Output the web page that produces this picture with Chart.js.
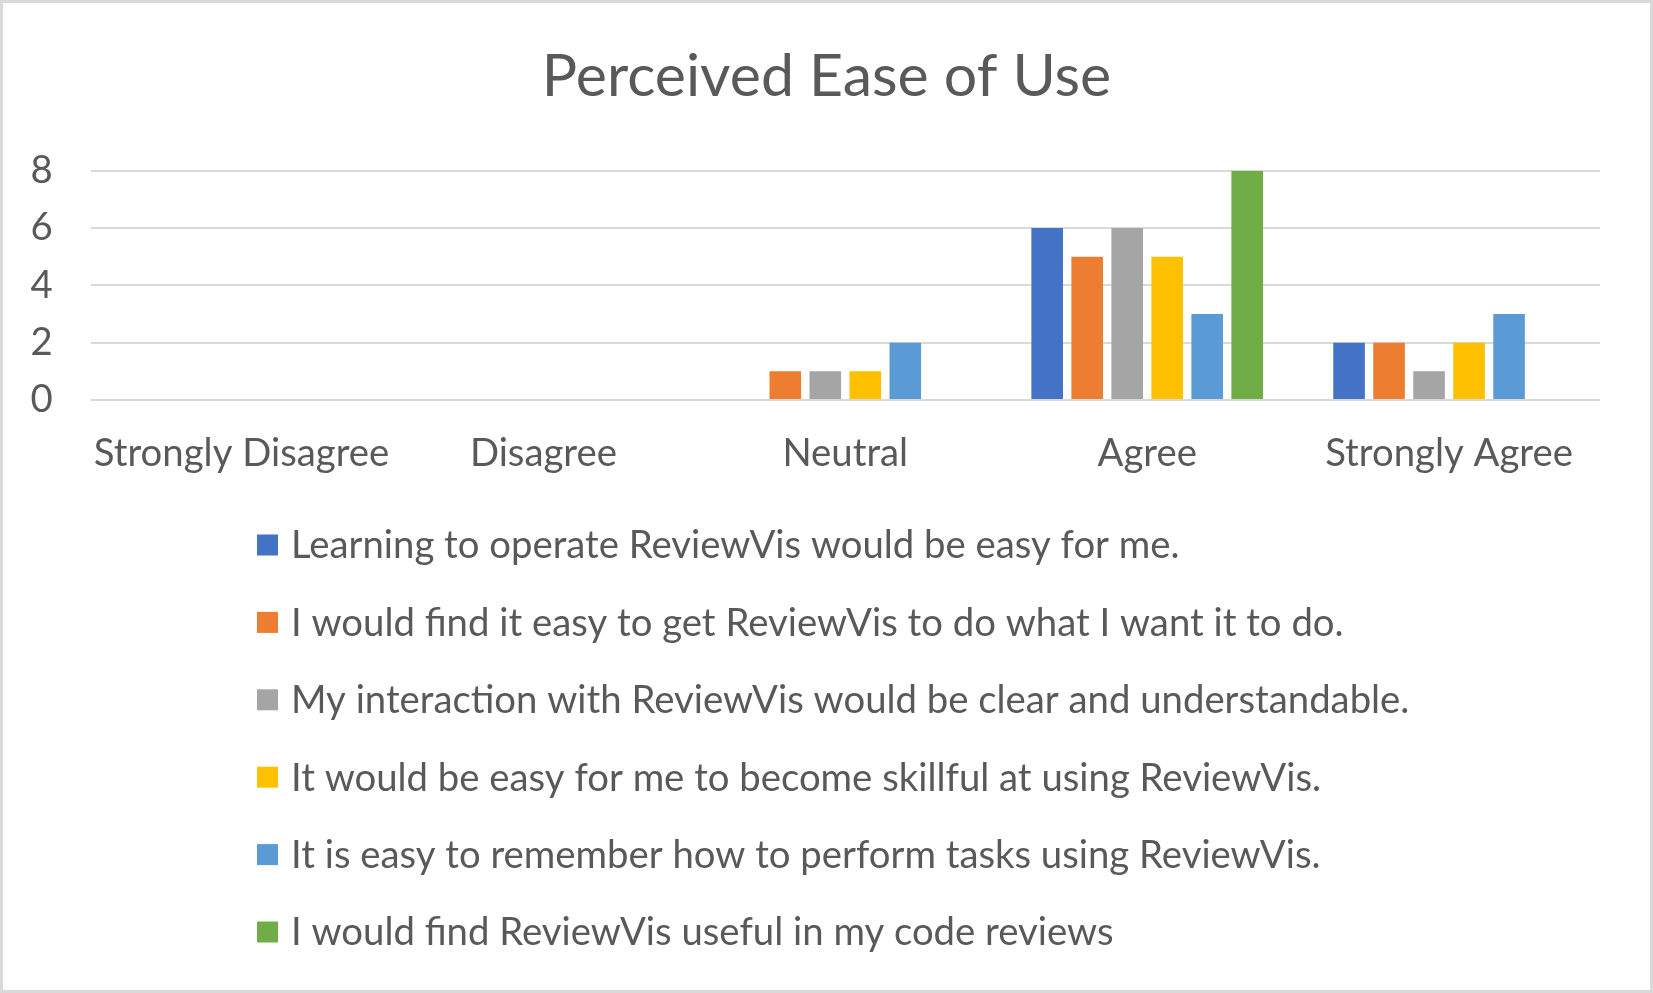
<!DOCTYPE html>
<html>
<head>
<meta charset="utf-8">
<script src="https://cdn.jsdelivr.net/npm/chart.js@4/dist/chart.umd.min.js"></script>
<style>
  html, body { margin: 0; padding: 0; background: #ffffff; }
  #wrap { position: relative; width: 1653px; height: 993px; }
  canvas { display: block; }
</style>
</head>
<body>
<div id="wrap"><canvas id="c" width="1653" height="993"></canvas></div>
<script>
// ---- Data ----
const categories = ['Strongly Disagree', 'Disagree', 'Neutral', 'Agree', 'Strongly Agree'];
const seriesLabels = [
  'Learning to operate ReviewVis would be easy for me.',
  'I would find it easy to get ReviewVis to do what I want it to do.',
  'My interaction with ReviewVis would be clear and understandable.',
  'It would be easy for me to become skillful at using ReviewVis.',
  'It is easy to remember how to perform tasks using ReviewVis.',
  'I would find ReviewVis useful in my code reviews'
];
const learningEasy   = [0, 0, 0, 6, 2];
const findEasy       = [0, 0, 1, 5, 2];
const interaction    = [0, 0, 1, 6, 1];
const becomeSkillful = [0, 0, 1, 5, 2];
const rememberTasks  = [0, 0, 2, 3, 3];
const usefulReviews  = [0, 0, 0, 8, 0];
const seriesValues = [learningEasy, findEasy, interaction, becomeSkillful, rememberTasks, usefulReviews];
const seriesColors = ['#4472C4', '#ED7D31', '#A5A5A5', '#FFC000', '#5B9BD5', '#70AD47'];
const yMin = 0, yMax = 8, yStep = 2;
const chartTitle = 'Perceived Ease of Use';

// ---- Styling ----
const FONT = 'Lato';
const TEXT = '#595959';
const GRID = '#D9D9D9';
const LABEL_SIZE = 38.3;

const borderPlugin = {
  id: 'frame',
  beforeDraw(chart) {
    const ctx = chart.ctx;
    ctx.save();
    ctx.fillStyle = '#ffffff';
    ctx.fillRect(0, 0, chart.width, chart.height);
    ctx.strokeStyle = GRID;
    ctx.lineWidth = 3;
    ctx.strokeRect(1.5, 1.5, chart.width - 3, chart.height - 3);
    ctx.restore();
  }
};

const legendPlugin = {
  id: 'listLegend',
  afterDraw(chart) {
    const ctx = chart.ctx;
    const x0 = 257, box = 21, top = chart.chartArea.bottom + 145, step = 77.4;
    ctx.save();
    ctx.font = LABEL_SIZE + 'px ' + FONT;
    ctx.textBaseline = 'middle';
    ctx.textAlign = 'left';
    chart.data.datasets.forEach((ds, i) => {
      const cy = top + i * step;
      ctx.fillStyle = ds.backgroundColor;
      ctx.fillRect(x0, cy - box / 2, box, box);
      ctx.fillStyle = TEXT;
      ctx.fillText(ds.label, x0 + 34, cy + 1);
    });
    ctx.restore();
  }
};

const datasets = seriesLabels.map((label, i) => ({
  label,
  data: seriesValues[i],
  backgroundColor: seriesColors[i],
  borderWidth: 0,
  categoryPercentage: 0.795,
  barPercentage: 0.79
}));

new Chart(document.getElementById('c'), {
  type: 'bar',
  data: { labels: categories, datasets },
  options: {
    responsive: false,
    animation: false,
    devicePixelRatio: 1,
    layout: { padding: { left: 0, right: 0, top: 0, bottom: 493 } },
    plugins: {
      legend: { display: false },
      tooltip: { enabled: false },
      title: {
        display: true,
        text: chartTitle,
        color: TEXT,
        font: { family: FONT, size: 59, weight: 'normal' },
        padding: { top: 42, bottom: 58 }
      }
    },
    scales: {
      x: {
        grid: { display: false, drawTicks: false },
        border: { display: false },
        ticks: { color: TEXT, font: { family: FONT, size: LABEL_SIZE }, padding: 31, maxRotation: 0, autoSkip: false },
        afterFit(scale) { scale.height = 100; }
      },
      y: {
        min: yMin, max: yMax,
        grid: { color: GRID, lineWidth: 2, drawTicks: false },
        border: { display: false },
        ticks: { stepSize: yStep, color: TEXT, font: { family: FONT, size: LABEL_SIZE }, padding: 38 },
        afterFit(scale) { scale.width = 90.6; }
      },
      yRightSpacer: {
        position: 'right',
        min: yMin, max: yMax,
        grid: { display: false, drawTicks: false },
        border: { display: false },
        ticks: { display: false },
        afterFit(scale) { scale.width = 53; }
      }
    }
  },
  plugins: [borderPlugin, legendPlugin]
});
</script>
</body>
</html>
